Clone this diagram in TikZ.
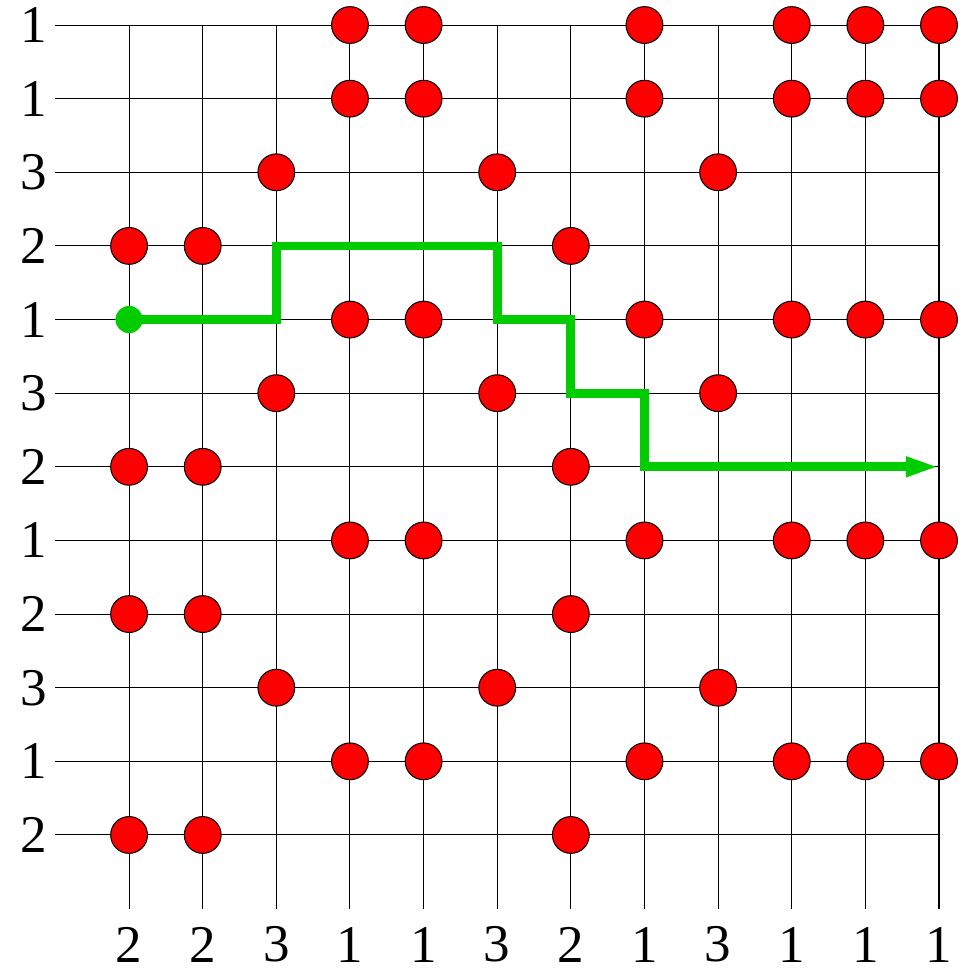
\documentclass[tikz,border=0pt]{standalone}
\usepackage{fontspec}
\setmainfont{Liberation Serif}
\usetikzlibrary{arrows.meta}
\definecolor{routegreen}{RGB}{0,204,0}

\begin{document}
\begin{tikzpicture}[
    gridline/.style={draw=black, line width=0.4pt},
    numlabel/.style={font=\fontsize{20.5}{24}\selectfont, inner sep=0pt},
    hit/.style={circle, draw=black, line width=0.4pt, fill=red, minimum size=0.5cm, inner sep=0pt},
    startdot/.style={circle, fill=routegreen, minimum size=0.37cm, inner sep=0pt},
    route/.style={draw=routegreen, line width=3.4pt, -{Triangle[length=0.45cm, width=0.25cm]}}
]
    \useasboundingbox (-0.753,-0.834) rectangle (12.394,12.34);

    % Gitter
    \foreach \k in {1,...,12} {
        \draw[gridline] (0,13-\k) -- (12,13-\k);
        \draw[gridline] (\k,0) -- (\k,12);
    }
    \foreach \i in {1,...,12}
        \foreach \j in {1,...,12}
            \coordinate (g-\i-\j) at (\i,13-\j);

    % Zeilen- und Spaltenwerte
    \foreach \r [count=\j] in {1,1,3,2,1,3,2,1,2,3,1,2}
        \node[numlabel] (row\j) at (-0.3,13-\j) {\r};
    \foreach \c [count=\i] in {2,2,3,1,1,3,2,1,3,1,1,1}
        \node[numlabel] (col\i) at (\i,-0.49) {\c};

    % Treffer (gleiche Werte)
    \foreach \r [count=\j] in {1,1,3,2,1,3,2,1,2,3,1,2}
        \foreach \c [count=\i] in {2,2,3,1,1,3,2,1,3,1,1,1} {
            \ifnum\r=\c \node[hit] (dot-\i-\j) at (g-\i-\j) {}; \fi
        }

    % Weg
    \draw[route] (g-1-5) -- (g-3-5) -- (g-3-4) -- (g-6-4) -- (g-6-5) -- (g-7-5)
        -- (g-7-6) -- (g-8-6) -- (g-8-7) -- (g-12-7);
    \node[startdot] (start) at (g-1-5) {};
\end{tikzpicture}
\end{document}
